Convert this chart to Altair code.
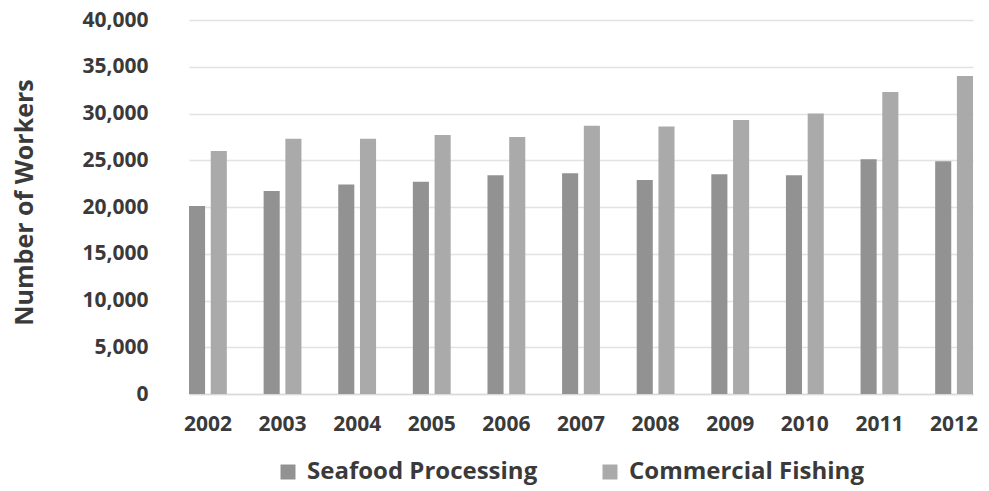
import altair as alt
import pandas as pd

years = ["2002", "2003", "2004", "2005", "2006", "2007", "2008", "2009", "2010", "2011", "2012"]
seafood_processing = [20100, 21700, 22400, 22700, 23400, 23600, 22900, 23500, 23400, 25100, 24900]
commercial_fishing = [26000, 27300, 27300, 27700, 27500, 28700, 28600, 29300, 30000, 32300, 34000]
series = ["Seafood Processing", "Commercial Fishing"]
colors = ["#929292", "#aaaaaa"]
y_ticks = [0, 5000, 10000, 15000, 20000, 25000, 30000, 35000, 40000]

rows = []
for i, yr in enumerate(years):
    rows.append({"Year": yr, "Series": series[0], "Workers": seafood_processing[i]})
    rows.append({"Year": yr, "Series": series[1], "Workers": commercial_fishing[i]})
df = pd.DataFrame(rows)

FONT = "Open Sans"
TXT = "#3a3a3a"

chart = alt.Chart(df).mark_bar().encode(
    x=alt.X("Year:N", sort=years,
            scale=alt.Scale(range=[16, 800], paddingInner=0.493, paddingOuter=0),
            axis=alt.Axis(title=None, labelAngle=0, ticks=False, labelPadding=19,
                          labelFont=FONT, labelFontSize=21, labelFontWeight="bold",
                          labelColor=TXT, domainColor="#d9d9d9", domainWidth=1.5,
                          grid=False)),
    xOffset=alt.XOffset("Series:N", sort=series,
                        scale=alt.Scale(paddingInner=0.26, paddingOuter=0)),
    y=alt.Y("Workers:Q",
            scale=alt.Scale(domain=[0, 40000], nice=False),
            axis=alt.Axis(title="Number of Workers", values=y_ticks, format=",.0f",
                          ticks=False, domain=False, labelPadding=25,
                          labelFont=FONT, labelFontSize=21, labelFontWeight="bold",
                          labelColor=TXT, gridColor="#e2e2e2", gridWidth=1.5,
                          titleFont=FONT, titleFontSize=25, titleFontWeight="bold",
                          titleColor=TXT, titleX=-149, titleY=182,
                          titleAngle=270, titleBaseline="middle", titleAlign="center")),
    color=alt.Color("Series:N", sort=series,
                    scale=alt.Scale(domain=series, range=colors),
                    legend=alt.Legend(title=None, orient="none", direction="horizontal",
                                      legendX=103, legendY=440,
                                      symbolType="square", symbolSize=225,
                                      symbolStrokeWidth=0, labelLimit=400,
                                      labelFont=FONT, labelFontSize=24,
                                      labelFontWeight="bold", labelColor=TXT,
                                      labelOffset=7, columnPadding=60)),
).properties(
    width=807,
    height=374,
    autosize=alt.AutoSizeParams(type="none"),
    padding={"left": 165, "top": 12, "right": 1, "bottom": 95},
    background="white",
).configure_view(stroke=None)

chart.save("out.html", embed_options={"renderer": "svg", "actions": False})
